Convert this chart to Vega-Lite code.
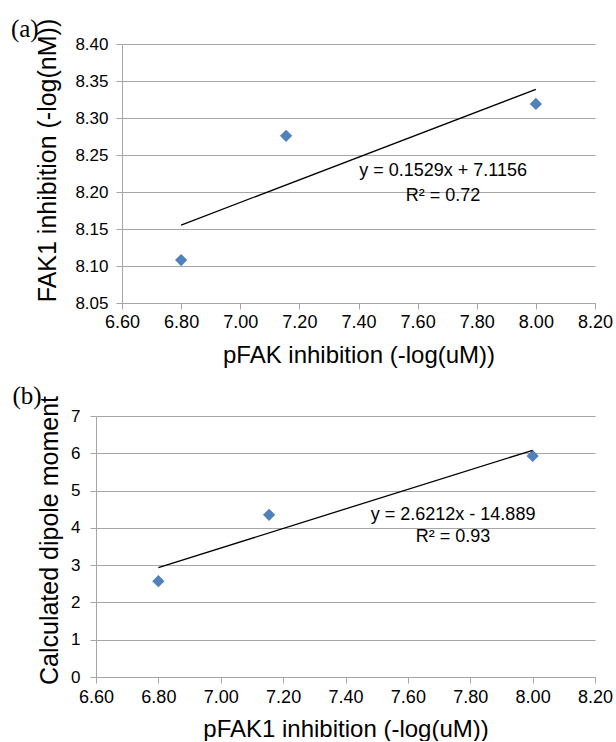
{
  "$schema": "https://vega.github.io/schema/vega-lite/v6.json",
  "background": "white",
  "padding": {"left": 10, "top": 17, "right": 0, "bottom": 0},
  "config": {
    "view": {"stroke": null},
    "axis": {
      "domainColor": "#a6a6a6",
      "gridColor": "#a6a6a6",
      "tickColor": "#a6a6a6",
      "labelFont": "Liberation Sans",
      "titleFont": "Liberation Sans",
      "labelColor": "black",
      "titleColor": "black",
      "titleFontWeight": "normal",
      "tickSize": 6,
      "tickCount": 20,
      "labelOverlap": false,
      "labelFlush": false,
      "labelBound": false
    },
    "title": {"font": "Liberation Serif", "fontSize": 25, "fontWeight": "normal", "anchor": "start", "frame": "bounds", "color": "black"}
  },
  "spacing": 17,
  "vconcat": [
    {
      "title": {"text": "(a)", "dx": -25, "dy": 28},
      "width": 499,
      "height": 259,
      "layer": [
        {
          "data": {"values": [
            {"x": 6.8, "y": 8.108},
            {"x": 7.155, "y": 8.276},
            {"x": 8.0, "y": 8.319}
          ]},
          "mark": {"type": "point", "shape": "diamond", "filled": true, "color": "#4f81bd", "size": 150, "opacity": 1},
          "encoding": {
            "x": {"field": "x", "type": "quantitative",
              "scale": {"domain": [6.6, 8.2], "range": [26, 499], "nice": false, "zero": false},
              "axis": {"values": [6.6, 6.8, 7.0, 7.2, 7.4, 7.6, 7.8, 8.0, 8.2], "format": ".2f", "grid": false,
                "title": "pFAK inhibition (-log(uM))", "titleFontSize": 24, "labelFontSize": 18, "labelPadding": 4, "titlePadding": 12}},
            "y": {"field": "y", "type": "quantitative",
              "scale": {"domain": [8.05, 8.4], "nice": false, "zero": false},
              "axis": {"values": [8.05, 8.1, 8.15, 8.2, 8.25, 8.3, 8.35, 8.4], "format": ".2f", "grid": true, "offset": -26,
                "title": "FAK1 inhibition (-log(nM))", "titleFontSize": 25, "labelFontSize": 17, "labelPadding": 8, "titlePadding": 14, "titleY": 116}}
          }
        },
        {
          "data": {"values": [
            {"x": 6.8, "y": 8.1553},
            {"x": 8.0, "y": 8.3388}
          ]},
          "mark": {"type": "line", "color": "black", "strokeWidth": 1.3},
          "encoding": {
            "x": {"field": "x", "type": "quantitative"},
            "y": {"field": "y", "type": "quantitative"}
          }
        },
        {
          "data": {"values": [
            {"x": 7.686, "y": 8.228, "label": "y = 0.1529x + 7.1156"},
            {"x": 7.686, "y": 8.195, "label": "R² = 0.72"}
          ]},
          "mark": {"type": "text", "font": "Liberation Sans", "fontSize": 18, "align": "center", "baseline": "middle", "color": "black"},
          "encoding": {
            "x": {"field": "x", "type": "quantitative"},
            "y": {"field": "y", "type": "quantitative"},
            "text": {"field": "label"}
          }
        }
      ]
    },
    {
      "title": {"text": "(b)", "dx": -25, "dy": 18},
      "width": 499,
      "height": 261,
      "layer": [
        {
          "data": {"values": [
            {"x": 6.8, "y": 2.57},
            {"x": 7.155, "y": 4.35},
            {"x": 8.0, "y": 5.93}
          ]},
          "mark": {"type": "point", "shape": "diamond", "filled": true, "color": "#4f81bd", "size": 150, "opacity": 1},
          "encoding": {
            "x": {"field": "x", "type": "quantitative",
              "scale": {"domain": [6.6, 8.2], "nice": false, "zero": false},
              "axis": {"values": [6.6, 6.8, 7.0, 7.2, 7.4, 7.6, 7.8, 8.0, 8.2], "format": ".2f", "grid": false,
                "title": "pFAK1 inhibition (-log(uM))", "titleFontSize": 24, "labelFontSize": 18, "labelPadding": 5, "titlePadding": 11}},
            "y": {"field": "y", "type": "quantitative",
              "scale": {"domain": [0, 7], "nice": false},
              "axis": {"values": [0, 1, 2, 3, 4, 5, 6, 7], "format": "d", "grid": true,
                "title": "Calculated dipole moment", "titleFontSize": 25, "labelFontSize": 17, "labelPadding": 10, "titlePadding": 8, "titleY": 124}}
          }
        },
        {
          "data": {"values": [
            {"x": 6.8, "y": 2.935},
            {"x": 8.0, "y": 6.081}
          ]},
          "mark": {"type": "line", "color": "black", "strokeWidth": 1.3},
          "encoding": {
            "x": {"field": "x", "type": "quantitative"},
            "y": {"field": "y", "type": "quantitative"}
          }
        },
        {
          "data": {"values": [
            {"x": 7.745, "y": 4.345, "label": "y = 2.6212x - 14.889"},
            {"x": 7.745, "y": 3.755, "label": "R² = 0.93"}
          ]},
          "mark": {"type": "text", "font": "Liberation Sans", "fontSize": 18, "align": "center", "baseline": "middle", "color": "black"},
          "encoding": {
            "x": {"field": "x", "type": "quantitative"},
            "y": {"field": "y", "type": "quantitative"},
            "text": {"field": "label"}
          }
        }
      ]
    }
  ]
}
